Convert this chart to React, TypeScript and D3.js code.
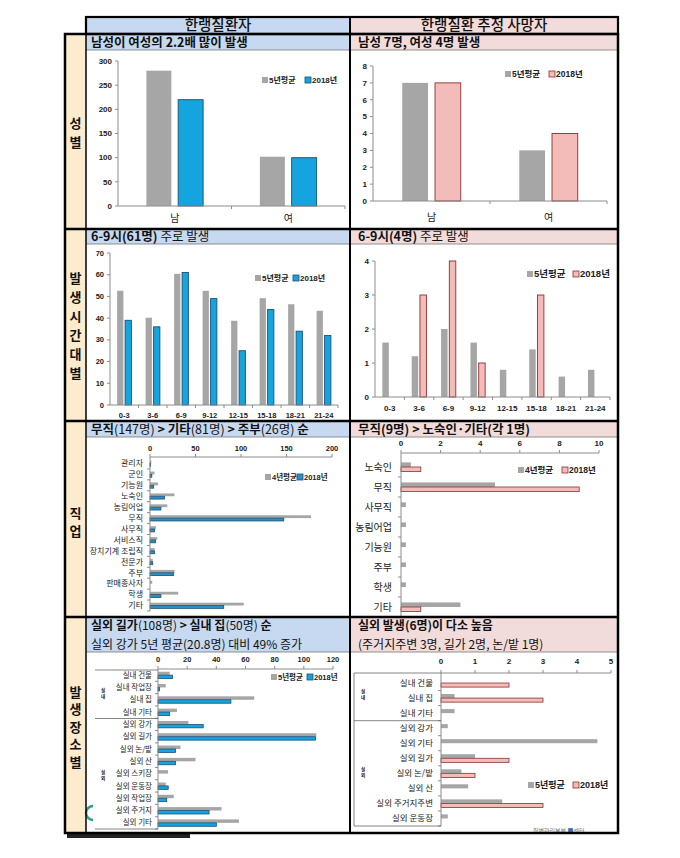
import React from "react";
import * as d3 from "d3";

// ---------------- DATA ----------------
const genderCats = ["남", "여"];
const patientsGender5yr = [280, 102];
const patientsGender2018 = [220, 100];
const patientsGenderTicks = [0, 50, 100, 150, 200, 250, 300];
const deathsGender5yr = [7, 3];
const deathsGender2018 = [7, 4];
const deathsGenderTicks = [0, 1, 2, 3, 4, 5, 6, 7, 8];

const timeCats = ["0-3", "3-6", "6-9", "9-12", "12-15", "15-18", "18-21", "21-24"];
const patientsTime5yr = [52.6, 40.2, 60.4, 52.6, 38.8, 49.2, 46.4, 43.4];
const patientsTime2018 = [39, 36, 61, 49, 25, 44, 34, 32];
const patientsTimeTicks = [0, 10, 20, 30, 40, 50, 60, 70];
const deathsTime5yr = [1.6, 1.2, 2.0, 1.6, 0.8, 1.4, 0.6, 0.8];
const deathsTime2018 = [0, 3, 4, 1, 0, 3, 0, 0];
const deathsTimeTicks = [0, 1, 2, 3, 4];

const patientsJobCats = ["관리자", "군인", "기능원", "노숙인", "농림어업", "무직", "사무직", "서비스직", "장치기계 조립직", "전문가", "주부", "판매종사자", "학생", "기타"];
const patientsJob4yr = [1.5, 5, 9, 27, 19, 177, 6.5, 8, 5, 3, 27, 2.5, 31, 103];
const patientsJob2018 = [0.7, 2, 4, 16, 12, 147, 5, 6, 5, 3, 26, 0, 12, 81];
const patientsJobTicks = [0, 50, 100, 150, 200];

const deathsJobCats = ["노숙인", "무직", "사무직", "농림어업", "기능원", "주부", "학생", "기타"];
const deathsJob4yr = [0.5, 4.75, 0.25, 0.25, 0.25, 0.25, 0.25, 3];
const deathsJob2018 = [1, 9, 0, 0, 0, 0, 0, 1];
const deathsJobTicks = [0, 2, 4, 6, 8, 10];

const patientsPlaceCats = ["실내 건물", "실내 작업장", "실내 집", "실내 기타", "실외 강가", "실외 길가", "실외 논/밭", "실외 산", "실외 스키장", "실외 운동장", "실외 작업장", "실외 주거지", "실외 기타"];
const patientsPlace5yr = [8, 5.3, 66, 13, 20.8, 108.5, 15.4, 25.7, 6.9, 5.3, 10.8, 43.6, 55.5];
const patientsPlace2018 = [10, 1, 50, 8, 31, 108, 12, 12, 0, 7, 6, 35, 40];
const patientsPlaceTicks = [0, 20, 40, 60, 80, 100, 120];

const deathsPlaceCats = ["실내 건물", "실내 집", "실내 기타", "실외 강가", "실외 기타", "실외 길가", "실외 논/밭", "실외 산", "실외 주거지주변", "실외 운동장"];
const deathsPlace5yr = [0, 0.4, 0.4, 0.2, 4.6, 1.0, 0.6, 0.8, 1.8, 0.2];
const deathsPlace2018 = [2, 3, 0, 0, 0, 2, 1, 0, 3, 0];
const deathsPlaceTicks = [0, 1, 2, 3, 4, 5];

const label5yr = "5년평균";
const label4yr = "4년평균";
const label2018 = "2018년";

// ---------------- STYLE ----------------
const FONT_KR = "'Noto Sans CJK KR', 'Noto Sans', sans-serif";
const FONT_NUM = "'Liberation Sans', Arial, 'Noto Sans CJK KR', sans-serif";
const GRAY = "#a6a6a6";
const BLUE = "#15a4dd";
const BLUE_DARK = "#2b8fc0";
const BLUE_STROKE = "#1b4f77";
const PINK = "#f3bcb8";
const PINK_STROKE = "#8a3030";
const AXIS = "#8c8c8c";
const HEAD_BLUE = "#c6d9f1";
const HEAD_PINK = "#f2dcdb";
const BEIGE = "#fcebcd";

function Legend({ x, x2, y, labels, fillB, strokeB, fs = 8.5 }: any) {
  return (
    <g fontFamily={FONT_NUM} fontSize={fs} fontWeight="bold" fill="#222">
      <rect x={x} y={y - 3} width={6} height={6} fill={GRAY} />
      <text x={x + 7} y={y} dy="0.35em">{labels[0]}</text>
      <rect x={x2} y={y - 3} width={6} height={6} fill={fillB} stroke={strokeB} strokeWidth={0.8} />
      <text x={x2 + 7} y={y} dy="0.35em">{labels[1]}</text>
    </g>
  );
}

function VBar(p: any) {
  const { cats, a, b, ticks, x0, x1, yTop, yBot, fillB, strokeB, tickFs = 8, catFs = 10, catBold = false, catDy = 12, barFrac = 0.22, gapFrac = 0.06 } = p;
  const x = d3.scaleBand<string>().domain(cats).range([x0, x1]);
  const y = d3.scaleLinear().domain([0, ticks[ticks.length - 1]]).range([yBot, yTop]);
  const bw = x.bandwidth();
  const w = bw * barFrac;
  const g = bw * gapFrac;
  return (
    <g>
      {cats.map((c: string, i: number) => {
        const cx = (x(c) as number) + bw / 2;
        return (
          <g key={c}>
            {a[i] > 0 && <rect x={cx - g / 2 - w} y={y(a[i])} width={w} height={yBot - y(a[i])} fill={GRAY} />}
            {b[i] > 0 && <rect x={cx + g / 2} y={y(b[i])} width={w} height={yBot - y(b[i])} fill={fillB} stroke={strokeB} strokeWidth={0.9} />}
            <text x={cx} y={yBot + catDy} dy="0.35em" textAnchor="middle" fontSize={catFs} fontWeight={catBold ? "bold" : "normal"} fontFamily={FONT_NUM} fill="#222">{c}</text>
          </g>
        );
      })}
      <line x1={x0} x2={x0} y1={yTop} y2={yBot} stroke={AXIS} />
      {ticks.map((t: number) => (
        <g key={t}>
          <line x1={x0 - 3} x2={x0} y1={y(t)} y2={y(t)} stroke={AXIS} />
          <text x={x0 - 6} y={y(t)} dy="0.35em" textAnchor="end" fontSize={tickFs} fontWeight="bold" fontFamily={FONT_NUM} fill="#222">{t}</text>
        </g>
      ))}
      <line x1={x0} x2={x1} y1={yBot} y2={yBot} stroke={AXIS} />
      {cats.map((c: string) => (
        <line key={"t" + c} x1={(x(c) as number) + bw} x2={(x(c) as number) + bw} y1={yBot} y2={yBot + 3} stroke={AXIS} />
      ))}
    </g>
  );
}

function HBar(p: any) {
  const { cats, a, b, ticks, x0, x1, yAxis, bandTop, bandBot, labelX, fillB, strokeB, tickFs = 8, catFs = 8.5, tickDy = 8, barFrac = 0.26 } = p;
  const x = d3.scaleLinear().domain([0, ticks[ticks.length - 1]]).range([x0, x1]);
  const y = d3.scaleBand<string>().domain(cats).range([bandTop, bandBot]);
  const bw = y.bandwidth();
  const h = bw * barFrac;
  return (
    <g>
      {cats.map((c: string, i: number) => {
        const cy = (y(c) as number) + bw / 2;
        return (
          <g key={c}>
            {a[i] > 0 && <rect x={x0} y={cy - h} width={x(a[i]) - x0} height={h} fill={GRAY} />}
            {b[i] > 0 && <rect x={x0} y={cy} width={x(b[i]) - x0} height={h} fill={fillB} stroke={strokeB} strokeWidth={0.8} />}
            <text x={labelX} y={cy} dy="0.35em" textAnchor="end" fontSize={catFs} fontFamily={FONT_KR} fill="#222">{c}</text>
          </g>
        );
      })}
      <line x1={x0} x2={x1} y1={yAxis} y2={yAxis} stroke={AXIS} />
      {ticks.map((t: number) => (
        <g key={t}>
          <line x1={x(t)} x2={x(t)} y1={yAxis - 3} y2={yAxis} stroke={AXIS} />
          <text x={x(t)} y={yAxis - tickDy} dy="0.1em" textAnchor="middle" fontSize={tickFs} fontWeight="bold" fontFamily={FONT_NUM} fill="#222">{t}</text>
        </g>
      ))}
      <line x1={x0} x2={x0} y1={yAxis} y2={bandBot} stroke={AXIS} />
      {cats.map((c: string) => (
        <line key={"t" + c} x1={x0 - 3} x2={x0} y1={(y(c) as number) + bw} y2={(y(c) as number) + bw} stroke={AXIS} />
      ))}
    </g>
  );
}

function Stack({ x, y, chars, step, fs }: any) {
  return (
    <g fontFamily={FONT_KR} fontSize={fs} fontWeight="bold" fill="#111" textAnchor="middle">
      {chars.map((ch: string, i: number) => (
        <text key={i} x={x} y={y + i * step} dy="0.35em">{ch}</text>
      ))}
    </g>
  );
}

export default function App() {
  const L = 65, C = 86, M = 350, R = 618, T = 34, B = 833;
  const rows = [T, 229, 421, 617, B];
  const subH = [16, 15, 16, 35];
  return (
    <svg width={680} height={858} style={{ position: "fixed", left: 0, top: 0, background: "#fff" }} fontFamily={FONT_KR}>
      <rect width={680} height={858} fill="#fff" />
      {/* header fills */}
      <rect x={C} y={17} width={M - C} height={T - 17} fill={HEAD_BLUE} />
      <rect x={M} y={17} width={R - M} height={T - 17} fill={HEAD_PINK} />
      <rect x={L} y={T} width={C - L} height={B - T} fill={BEIGE} />
      {rows.slice(0, 4).map((r, i) => (
        <g key={i}>
          <rect x={C} y={r} width={M - C} height={subH[i]} fill={HEAD_BLUE} />
          <rect x={M} y={r} width={R - M} height={subH[i]} fill={HEAD_PINK} />
          <line x1={C} x2={R} y1={r + subH[i]} y2={r + subH[i]} stroke="#777" strokeWidth={0.8} />
        </g>
      ))}
      <text x={218} y={25} dy="0.35em" textAnchor="middle" fontSize={14.5} fontWeight="500" fill="#111">한랭질환자</text>
      <text x={484} y={25} dy="0.35em" textAnchor="middle" fontSize={14.5} fontWeight="500" fill="#111">한랭질환 추정 사망자</text>

      {/* row labels */}
      <Stack x={75.5} y={123} chars={["성", "별"]} step={19} fs={13} />
      <Stack x={75.5} y={278} chars={["발", "생", "시", "간", "대", "별"]} step={19} fs={13} />
      <Stack x={75.5} y={513} chars={["직", "업"]} step={18} fs={13} />
      <Stack x={75.5} y={692} chars={["발", "생", "장", "소", "별"]} step={17.5} fs={13} />

      {/* sub headers */}
      <g fontSize={12.5} fill="#111">
        <text x={91} y={42.5} dy="0.35em" fontWeight="bold">남성이 여성의 2.2배 많이 발생</text>
        <text x={358} y={42.5} dy="0.35em" fontWeight="bold">남성 7명, 여성 4명 발생</text>
        <text x={91} y={237} dy="0.35em"><tspan fontWeight="bold">6-9시(61명)</tspan> 주로 발생</text>
        <text x={358} y={237} dy="0.35em"><tspan fontWeight="bold">6-9시(4명)</tspan> 주로 발생</text>
        <text x={91} y={430} dy="0.35em"><tspan fontWeight="bold">무직</tspan>(147명) <tspan fontWeight="bold">&gt; 기타</tspan>(81명) <tspan fontWeight="bold">&gt; 주부</tspan>(26명) <tspan fontWeight="bold">순</tspan></text>
        <text x={358} y={430} dy="0.35em" fontWeight="bold">무직(9명) &gt; 노숙인·기타(각 1명)</text>
      </g>
      <g fontSize={12} fill="#111">
        <text x={91} y={625.5} dy="0.35em"><tspan fontWeight="bold">실외 길가</tspan>(108명) <tspan fontWeight="bold">&gt; 실내 집</tspan>(50명) <tspan fontWeight="bold">순</tspan></text>
        <text x={91} y={644.5} dy="0.35em">실외 강가 5년 평균(20.8명) 대비 49% 증가</text>
        <text x={358} y={625.5} dy="0.35em" fontWeight="bold">실외 발생(6명)이 다소 높음</text>
        <text x={358} y={644.5} dy="0.35em">(주거지주변 3명, 길가 2명, 논/밭 1명)</text>
      </g>

      {/* charts */}
      <VBar cats={genderCats} a={patientsGender5yr} b={patientsGender2018} ticks={patientsGenderTicks} x0={118} x1={345} yTop={61} yBot={206} fillB={BLUE} strokeB={BLUE_STROKE} catDy={12} />
      <Legend x={262} x2={305} y={80} labels={[label5yr, label2018]} fillB={BLUE} strokeB={BLUE_STROKE} fs={8} />
      <VBar cats={genderCats} a={deathsGender5yr} b={deathsGender2018} ticks={deathsGenderTicks} x0={373} x1={607} yTop={66} yBot={201} fillB={PINK} strokeB={PINK_STROKE} catDy={16} />
      <Legend x={505} x2={549} y={74} labels={[label5yr, label2018]} fillB={PINK} strokeB={PINK_STROKE} fs={8.5} />

      <VBar cats={timeCats} a={patientsTime5yr} b={patientsTime2018} ticks={patientsTimeTicks} x0={110} x1={338} yTop={253} yBot={405} fillB={BLUE} strokeB={BLUE_STROKE} catDy={10} catFs={7.5} catBold tickFs={7.5} />
      <Legend x={255} x2={293} y={278} labels={[label5yr, label2018]} fillB={BLUE} strokeB={BLUE_STROKE} fs={8} />
      <VBar cats={timeCats} a={deathsTime5yr} b={deathsTime2018} ticks={deathsTimeTicks} x0={375} x1={610} yTop={261} yBot={397} fillB={PINK} strokeB={PINK_STROKE} catDy={11} catFs={8} catBold tickFs={8} />
      <Legend x={527} x2={573} y={274} labels={[label5yr, label2018]} fillB={PINK} strokeB={PINK_STROKE} fs={9.5} />

      <HBar cats={patientsJobCats} a={patientsJob4yr} b={patientsJob2018} ticks={patientsJobTicks} x0={150} x1={332} yAxis={457} bandTop={458} bandBot={611} labelX={143} fillB={BLUE_DARK} strokeB={BLUE_STROKE} tickFs={7.5} catFs={8} tickDy={7} />
      <Legend x={265} x2={297} y={477} labels={[label4yr, label2018]} fillB={BLUE_DARK} strokeB={BLUE_STROKE} fs={7.5} />
      <HBar cats={deathsJobCats} a={deathsJob4yr} b={deathsJob2018} ticks={deathsJobTicks} x0={401} x1={599} yAxis={453} bandTop={457} bandBot={617} labelX={392} fillB={PINK} strokeB={PINK_STROKE} tickFs={8} catFs={10} tickDy={8} barFrac={0.23} />
      <Legend x={518} x2={562} y={470} labels={[label4yr, label2018]} fillB={PINK} strokeB={PINK_STROKE} fs={8.5} />

      <HBar cats={patientsPlaceCats} a={patientsPlace5yr} b={patientsPlace2018} ticks={patientsPlaceTicks} x0={158} x1={333} yAxis={669} bandTop={669} bandBot={829} labelX={152} fillB={BLUE} strokeB={BLUE_STROKE} tickFs={7.5} catFs={7.5} tickDy={8} barFrac={0.28} />
      <Legend x={271} x2={307} y={677} labels={[label5yr, label2018]} fillB={BLUE} strokeB={BLUE_STROKE} fs={7.5} />
      <HBar cats={deathsPlaceCats} a={deathsPlace5yr} b={deathsPlace2018} ticks={deathsPlaceTicks} x0={441} x1={611} yAxis={673} bandTop={675.5} bandBot={826} labelX={433} fillB={PINK} strokeB={PINK_STROKE} tickFs={8} catFs={8.5} tickDy={10} barFrac={0.27} />
      <Legend x={528} x2={573} y={785} labels={[label5yr, label2018]} fillB={PINK} strokeB={PINK_STROKE} fs={9} />

      {/* place group separators */}
      <g stroke="#666" strokeWidth={0.8}>
        <line x1={95} x2={158} y1={670} y2={670} />
        <line x1={95} x2={158} y1={718.5} y2={718.5} />
        <line x1={95} x2={158} y1={829} y2={829} />
        <line x1={354} x2={441} y1={673} y2={673} />
        <line x1={354} x2={441} y1={720.7} y2={720.7} />
        <line x1={354} x2={441} y1={826} y2={826} />
        <line x1={354} x2={354} y1={673} y2={826} />
      </g>
      <Stack x={103} y={690} chars={["실", "내"]} step={6.5} fs={4.6} />
      <Stack x={103} y={772} chars={["실", "외"]} step={6.5} fs={4.6} />
      <Stack x={363} y={691} chars={["실", "내"]} step={6.5} fs={4.6} />
      <Stack x={363} y={769} chars={["실", "외"]} step={6.5} fs={4.6} />

      {/* footer bits */}
      <text x={533} y={831} dy="0.35em" fontSize={6} fill="#777">질병관리본부 <tspan fill="#3a6fb0">■</tspan>센터</text>
      <path d="M 93 806 A 7 7 0 1 0 93 820" fill="none" stroke="#2aa37a" strokeWidth={2.5} />
      <rect x={67} y={834} width={123} height={4} fill="#222" />

      {/* frame borders */}
      <g fill="none" stroke="#000">
        <rect x={C} y={17} width={R - C} height={T - 17} strokeWidth={2.2} />
        <rect x={L} y={T} width={R - L} height={B - T} strokeWidth={2.5} />
        <line x1={M} x2={M} y1={17} y2={B} strokeWidth={2} />
        <line x1={C} x2={C} y1={T} y2={B} strokeWidth={1.5} />
        {rows.slice(1, 4).map((r) => (
          <line key={r} x1={L} x2={R} y1={r} y2={r} strokeWidth={2.5} />
        ))}
      </g>
    </svg>
  );
}
